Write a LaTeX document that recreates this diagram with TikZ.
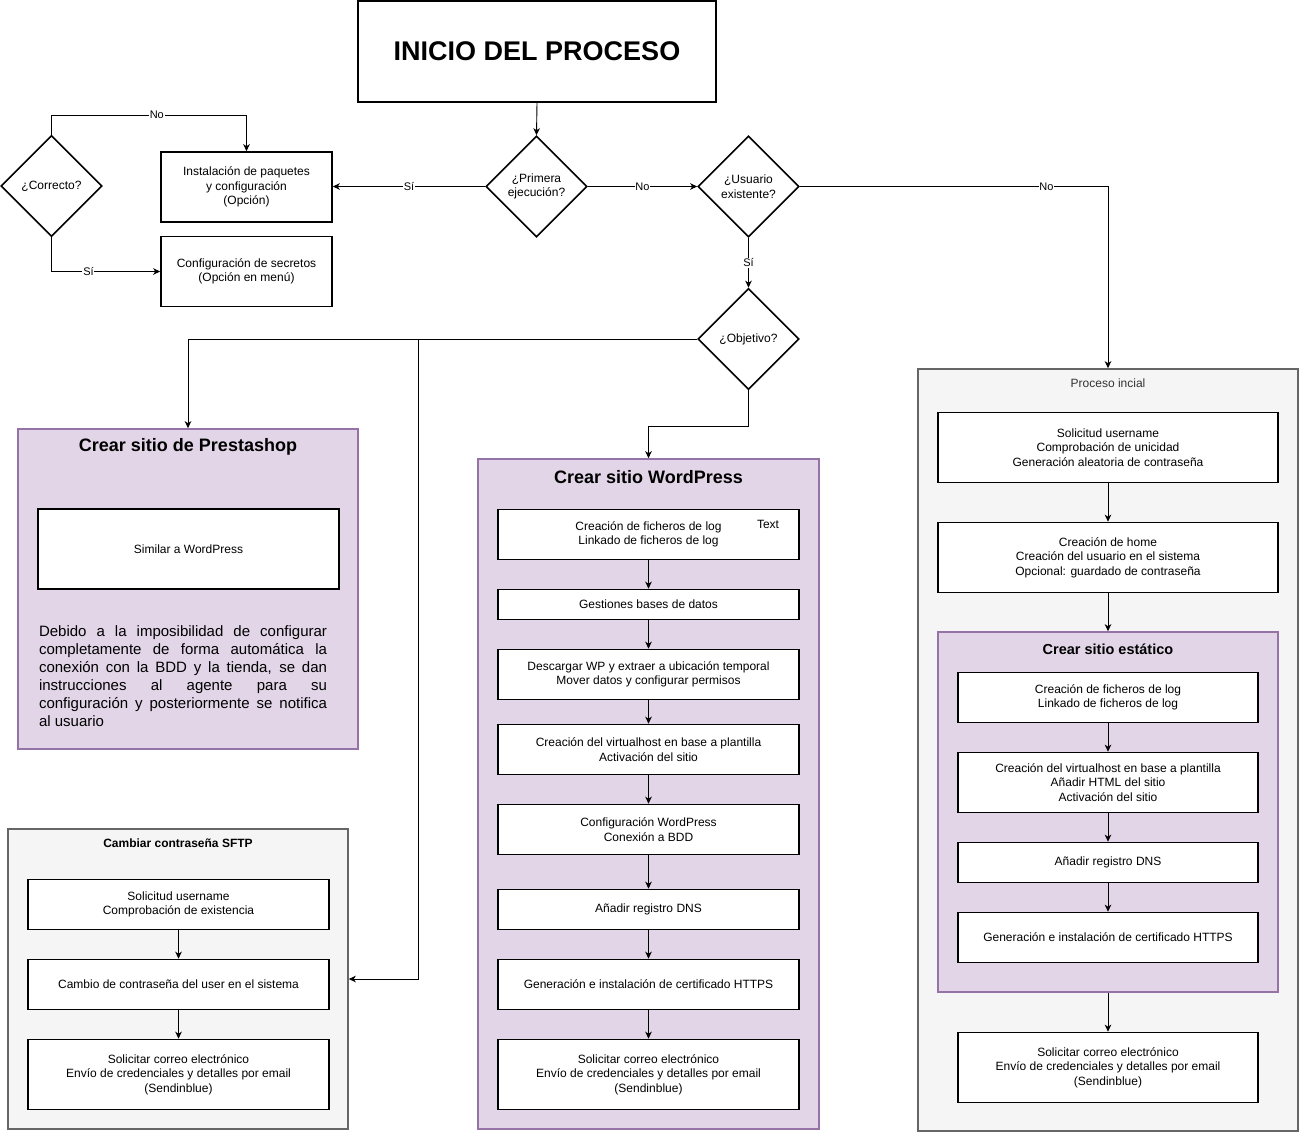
\documentclass[tikz,border=0pt]{standalone}
\usepackage{fontspec}
\setmainfont{Liberation Sans}
\usetikzlibrary{shapes.geometric,arrows.meta,calc}
\definecolor{pfill}{HTML}{E1D5E7}
\definecolor{pdraw}{HTML}{9673A6}
\definecolor{gfill}{HTML}{F5F5F5}
\definecolor{gdraw}{HTML}{666666}
\definecolor{gtext}{HTML}{333333}
\begin{document}
\begin{tikzpicture}[x=1pt,y=-1pt,
  every node/.style={font=\fontsize{12}{14.5}\selectfont, inner sep=0pt},
  box/.style={draw=black, line width=1.6pt, fill=white, align=center},
  pbox/.style={draw=pdraw, line width=1.6pt, fill=pfill},
  gbox/.style={draw=gdraw, line width=1.6pt, fill=gfill},
  dia/.style={diamond, draw=black, line width=1.6pt, fill=white, align=center, minimum width=101pt, minimum height=101pt, aspect=1},
  arr/.style={draw=black, line width=0.9pt, -{Stealth[length=7pt,width=6.5pt,inset=2pt]}},
  lbl/.style={fill=white, font=\fontsize{11}{13}\selectfont, inner sep=0.8pt},
  ttl/.style={font=\bfseries\fontsize{18}{21}\selectfont},
]
\useasboundingbox (0,0) rectangle (1299,1133);
\fill[white] (0,0) rectangle (1299,1133);

% containers
\node[pbox, minimum width=340pt, minimum height=320pt] (presta) at (188,589) {};
\node[gbox, minimum width=340pt, minimum height=300pt] (sftp) at (178,979) {};
\node[pbox, minimum width=341pt, minimum height=670pt] (wp) at (648.5,794) {};
\node[gbox, minimum width=380pt, minimum height=762pt] (proc) at (1108,750) {};
\node[pbox, minimum width=340pt, minimum height=360pt] (est) at (1108,812) {};

% container titles
\node[ttl] (tpresta) at (188,447) {Crear sitio de Prestashop};
\node[ttl] (twp) at (648.5,477) {Crear sitio WordPress};
\node[font=\bfseries\fontsize{14.5}{17}\selectfont] (test) at (1108,649) {Crear sitio estático};
\node[font=\bfseries\fontsize{12}{14}\selectfont] (tsftp) at (178,843) {Cambiar contraseña SFTP};
\node[text=gtext] (tproc) at (1108,383) {Proceso incial};

% top area
\node[box, minimum width=358pt, minimum height=101pt, font=\bfseries\fontsize{27}{32}\selectfont] (inicio) at (537,51.5) {INICIO DEL PROCESO};
\node[dia] (prim) at (536.5,186.5) {¿Primera\\ejecución?};
\node[dia] (usu) at (748.5,186.5) {¿Usuario\\existente?};
\node[dia] (obj) at (748.5,339) {¿Objetivo?};
\node[dia] (corr) at (51.5,186) {¿Correcto?};
\node[box, minimum width=171pt, minimum height=70pt] (inst) at (246.5,187) {Instalación de paquetes\\y configuración\\(Opción)};
\node[box, minimum width=171pt, minimum height=70pt] (sec) at (246.5,271.5) {Configuración de secretos\\(Opción en menú)};

% prestashop
\node[box, minimum width=301pt, minimum height=80pt] (sim) at (188.5,549) {Similar a WordPress};
\node[text width=288pt, align=justify, font=\fontsize{15}{18}\selectfont] (ptext) at (183,676) {\hyphenpenalty=10000 \exhyphenpenalty=10000 Debido a la imposibilidad de configurar\linebreak completamente de forma automática la\linebreak conexión con la BDD y la tienda, se dan\linebreak instrucciones al agente para su\linebreak configuración y posteriormente se notifica\linebreak al usuario};

% sftp
\node[box, minimum width=301pt, minimum height=50pt] (s1) at (178.5,904.5) {Solicitud username\\Comprobación de existencia};
\node[box, minimum width=301pt, minimum height=50pt] (s2) at (178.5,984.5) {Cambio de contraseña del user en el sistema};
\node[box, minimum width=301pt, minimum height=70pt] (s3) at (178.5,1074.5) {Solicitar correo electrónico\\Envío de credenciales y detalles por email\\(Sendinblue)};

% wordpress
\node[box, minimum width=301pt, minimum height=50pt] (w1) at (648.5,534.5) {Creación de ficheros de log\\Linkado de ficheros de log};
\node (wtext) at (768,524) {Text};
\node[box, minimum width=301pt, minimum height=30pt] (w2) at (648.5,604.5) {Gestiones bases de datos};
\node[box, minimum width=301pt, minimum height=50pt] (w3) at (648.5,674.5) {Descargar WP y extraer a ubicación temporal\\Mover datos y configurar permisos};
\node[box, minimum width=301pt, minimum height=50pt] (w4) at (648.5,749.5) {Creación del virtualhost en base a plantilla\\Activación del sitio};
\node[box, minimum width=301pt, minimum height=50pt] (w5) at (648.5,829.5) {Configuración WordPress\\Conexión a BDD};
\node[box, minimum width=301pt, minimum height=40pt] (w6) at (648.5,909.5) {Añadir registro DNS};
\node[box, minimum width=301pt, minimum height=50pt] (w7) at (648.5,984.5) {Generación e instalación de certificado HTTPS};
\node[box, minimum width=301pt, minimum height=70pt] (w8) at (648.5,1074.5) {Solicitar correo electrónico\\Envío de credenciales y detalles por email\\(Sendinblue)};

% proceso inicial
\node[box, minimum width=340pt, minimum height=70pt] (p1) at (1108,447.5) {Solicitud username\\Comprobación de unicidad\\Generación aleatoria de contraseña};
\node[box, minimum width=340pt, minimum height=70pt] (p2) at (1108,557.5) {Creación de home\\Creación del usuario en el sistema\\Opcional: guardado de contraseña};
\node[box, minimum width=300pt, minimum height=50pt] (e1) at (1108,697.5) {Creación de ficheros de log\\Linkado de ficheros de log};
\node[box, minimum width=300pt, minimum height=60pt] (e2) at (1108,782.5) {Creación del virtualhost en base a plantilla\\Añadir HTML del sitio\\Activación del sitio};
\node[box, minimum width=300pt, minimum height=40pt] (e3) at (1108,862.5) {Añadir registro DNS};
\node[box, minimum width=300pt, minimum height=50pt] (e4) at (1108,937.5) {Generación e instalación de certificado HTTPS};
\node[box, minimum width=300pt, minimum height=70pt] (pe) at (1108,1067.5) {Solicitar correo electrónico\\Envío de credenciales y detalles por email\\(Sendinblue)};

% connectors
\coordinate (bx) at (418,0);
\draw[arr] (inicio.south) -- (prim.north);
\draw[arr] (prim.west) -- node[lbl]{Sí} (inst.east |- prim.west);
\draw[arr] (corr.north) |- node[lbl, pos=0.77]{No} ([yshift=36pt]inst.north) -- (inst.north);
\draw[arr] (corr.south) |- node[lbl, pos=0.67]{Sí} (sec.west);
\draw[arr] (prim.east) -- node[lbl]{No} (usu.west);
\draw[arr] (usu.east) -| node[lbl, pos=0.4]{No} (proc.north);
\draw[arr] (usu.south) -- node[lbl]{Sí} (obj.north);
\draw[arr] (obj.west) -| (presta.north);
\draw[arr] (obj.west) -- (obj.west -| bx) -- (bx |- sftp.east) -- (sftp.east);
\draw[arr] (obj.south) -- ++(0,36) -| (wp.north);

\draw[arr] (s1.south) -- (s2.north);
\draw[arr] (s2.south) -- (s3.north);
\draw[arr] (w1.south) -- (w2.north);
\draw[arr] (w2.south) -- (w3.north);
\draw[arr] (w3.south) -- (w4.north);
\draw[arr] (w4.south) -- (w5.north);
\draw[arr] (w5.south) -- (w6.north);
\draw[arr] (w6.south) -- (w7.north);
\draw[arr] (w7.south) -- (w8.north);
\draw[arr] (p1.south) -- (p2.north);
\draw[arr] (p2.south) -- (est.north);
\draw[arr] (e1.south) -- (e2.north);
\draw[arr] (e2.south) -- (e3.north);
\draw[arr] (e3.south) -- (e4.north);
\draw[arr] (est.south) -- (pe.north);
\end{tikzpicture}
\end{document}
